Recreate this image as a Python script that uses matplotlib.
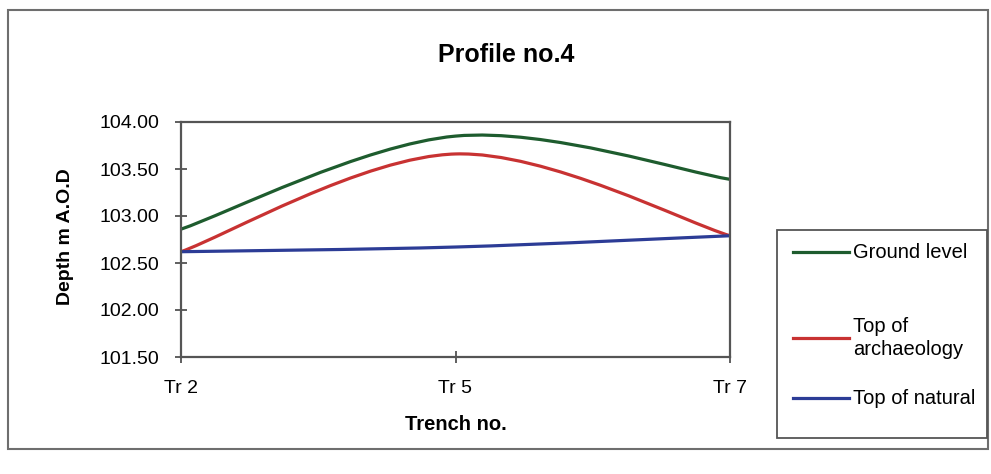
import numpy as np
import matplotlib.pyplot as plt
from matplotlib.path import Path
from matplotlib.patches import PathPatch, Rectangle
from matplotlib.lines import Line2D

plt.rcParams['font.family'] = ['Liberation Sans', 'DejaVu Sans']

# data
trenches = ['Tr 2', 'Tr 5', 'Tr 7']
ground = [102.86, 103.85, 103.39]
archaeology = [102.62, 103.66, 102.79]
natural = [102.62, 102.67, 102.79]
yticks = [101.50, 102.00, 102.50, 103.00, 103.50, 104.00]

series = [
    ('Ground level', ground, '#1e5c2e'),
    ('Top of\narchaeology', archaeology, '#c83232'),
    ('Top of natural', natural, '#2c3c96'),
]

W, H = 991, 474
fig = plt.figure(figsize=(W / 100, H / 100), dpi=100)


def fx(px):
    return px / W


def fy(py):
    return 1 - py / H


# smoothed line like the spreadsheet one (cubic bezier, catmull-rom style)
def smooth_path(xs, ys):
    pts = np.column_stack([xs, ys]).astype(float)
    n = len(pts)
    verts = [pts[0]]
    codes = [Path.MOVETO]
    for i in range(n - 1):
        p0 = pts[max(i - 1, 0)]
        p1 = pts[i]
        p2 = pts[i + 1]
        p3 = pts[min(i + 2, n - 1)]
        c1 = p1 + (p2 - p0) / 6.0
        c2 = p2 - (p3 - p1) / 6.0
        verts += [c1, c2, p2]
        codes += [Path.CURVE4] * 3
    return Path(verts, codes)


# outer chart frame
fig.add_artist(Rectangle((fx(8), fy(449)), fx(980), (449 - 10) / H,
                         transform=fig.transFigure, fill=False,
                         edgecolor='#6e6e6e', lw=1.5))

ax = fig.add_axes([fx(181), fy(357), fx(730 - 181), (357 - 122) / H])
x = np.arange(len(trenches))
for label, vals, col in series:
    ax.add_patch(PathPatch(smooth_path(x, vals), fill=False,
                           edgecolor=col, lw=2.3, capstyle='round'))

ax.set_xlim(0, len(trenches) - 1)
ax.set_ylim(yticks[0], yticks[-1])
ax.set_xticks(x)
ax.set_xticklabels(trenches, fontsize=14)
ax.set_yticks(yticks)
ax.set_yticklabels(['%.2f' % v for v in yticks], fontsize=14)
ax.tick_params(direction='inout', length=9, width=1.2, color='#444444')
ax.tick_params(axis='x', pad=12)
ax.tick_params(axis='y', pad=11)
for s in ax.spines.values():
    s.set_color('#555555')
    s.set_linewidth(1.6)

fig.text(fx(506), fy(55), 'Profile no.4', ha='center', va='center',
         fontsize=18, fontweight='bold')
fig.text(fx(65), fy(237), 'Depth m A.O.D', ha='center', va='center',
         rotation=90, fontsize=14, fontweight='bold')
fig.text(fx(456), fy(424), 'Trench no.', ha='center', va='center',
         fontsize=14.5, fontweight='bold')

# legend box drawn by hand (entries are unevenly spaced in the original)
fig.add_artist(Rectangle((fx(777), fy(438)), fx(987 - 777), (438 - 230) / H,
                         transform=fig.transFigure, fill=False,
                         edgecolor='#555555', lw=1.3))
entry_y = [252, 338, 398]
for (label, vals, col), ey in zip(series, entry_y):
    fig.add_artist(Line2D([fx(793), fx(849)], [fy(ey), fy(ey)],
                          transform=fig.transFigure, color=col, lw=2.3))
    fig.text(fx(853), fy(ey), label, ha='left', va='center',
             fontsize=14.5, linespacing=1.25)

fig.savefig('out.png', dpi=100)
